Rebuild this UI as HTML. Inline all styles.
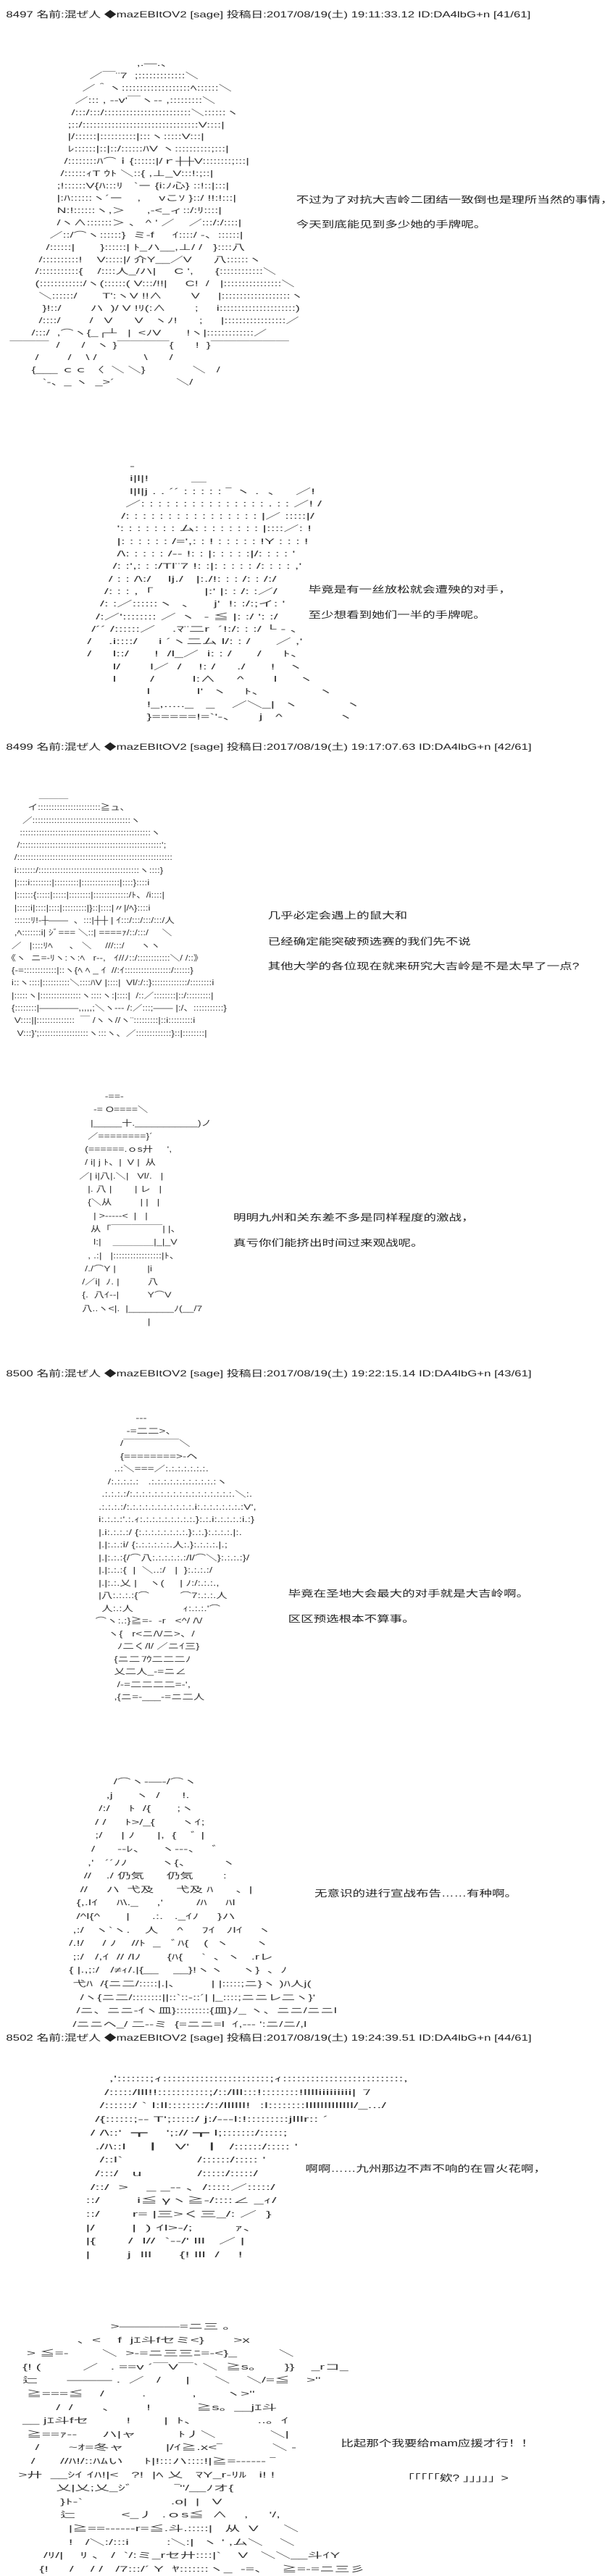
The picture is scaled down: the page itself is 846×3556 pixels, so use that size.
<!DOCTYPE html>
<html><head><meta charset="utf-8">
<style>
html,body{margin:0;padding:0;background:#fff;}
body{width:846px;height:3556px;overflow:hidden;position:relative;}
#s{position:absolute;left:0;top:0;width:604px;height:3556px;transform:scaleX(1.4);transform-origin:0 0;}
.h,.t,.a{position:absolute;white-space:pre;margin:0;color:#111;}
.h{left:6px;font:12px/16px "Liberation Sans","Noto Sans CJK JP",sans-serif;color:#222;}
.t{font:12.5px/16px "Liberation Sans","Noto Sans CJK SC",sans-serif;color:#222;}
.a{font:11px "Liberation Sans","Noto Sans CJK JP",sans-serif;color:#333;transform-origin:0 0;}
</style></head><body><div id="s">
<div class="h" style="top:12px">8497 名前:混ぜ人 ◆mazEBItOV2 [sage] 投稿日:2017/08/19(土) 19:11:33.12 ID:DA4lbG+n [41/61]</div>
<div class="h" style="top:1023px">8499 名前:混ぜ人 ◆mazEBItOV2 [sage] 投稿日:2017/08/19(土) 19:17:07.63 ID:DA4lbG+n [42/61]</div>
<div class="h" style="top:1888px">8500 名前:混ぜ人 ◆mazEBItOV2 [sage] 投稿日:2017/08/19(土) 19:22:15.14 ID:DA4lbG+n [43/61]</div>
<div class="h" style="top:2805px">8502 名前:混ぜ人 ◆mazEBItOV2 [sage] 投稿日:2017/08/19(土) 19:24:39.51 ID:DA4lbG+n [44/61]</div>

<div class="t" style="left:292px;top:268px">不过为了对抗大吉岭二团结一致倒也是理所当然的事情，</div>
<div class="t" style="left:292px;top:302px">今天到底能见到多少她的手牌呢。</div>
<div class="t" style="left:304px;top:806px">毕竟是有一丝放松就会遭殃的对手，</div>
<div class="t" style="left:304px;top:841px">至少想看到她们一半的手牌呢。</div>
<div class="t" style="left:264px;top:1256px">几乎必定会遇上的鼠大和</div>
<div class="t" style="left:264px;top:1292px">已经确定能突破预选赛的我们先不说</div>
<div class="t" style="left:264px;top:1326px">其他大学的各位现在就来研究大吉岭是不是太早了一点?</div>
<div class="t" style="left:230px;top:1673px">明明九州和关东差不多是同样程度的激战，</div>
<div class="t" style="left:230px;top:1708px">真亏你们能挤出时间过来观战呢。</div>
<div class="t" style="left:284px;top:2192px">毕竟在圣地大会最大的对手就是大吉岭啊。</div>
<div class="t" style="left:284px;top:2227px">区区预选根本不算事。</div>
<div class="t" style="left:310px;top:2606px">无意识的进行宣战布告……有种啊。</div>
<div class="t" style="left:301px;top:2986px">啊啊……九州那边不声不响的在冒火花啊，</div>
<div class="t" style="left:336px;top:3365px">比起那个我要给mam应援才行！！</div>
<div class="t" style="left:396px;top:3413px">「「「「「欸? 」」」」」&gt;</div>

<pre class="a" style="left:6px;top:80px;line-height:16.9px;transform:scaleX(1.17)">                                    ,.―.、
                       ／￣¨7  ;:::::::::::::＼
                     ／＾ヽ:::::::::::::::::::ﾍ::::::＼
                   ／::: , --v'￣ヽ-- ,:::::::::＼
                  /:::/:::/::::::::::::::::::::::::＼::::::ヽ
                 ;::/::::::::::::::::::::::::::::::::V::::|
                 |/::::::|::::::::::|:::ヽ:::::V:::|
                 ﾚ::::::|::|::/::::::ﾊV ヽ::::::::::;:::|
                /::::::::ﾊ⌒ｉ{::::::|/ｒ┼┼V::::::::;:::|
               /::::::ｨT ｳﾄ ＼::{ ,⊥_V:::!:;::|
              ;!::::::V{ﾊ:::ﾘ   `ー {i:ﾉ心} ::!::|:::|
              |:ﾊ::::::ヽ´ー    ,     vこｿ }::/ !!:!:::|
              N:!::::::ヽ,＞      ,-<_ィ::/:ﾘ::::|
              /ヽ∧:::::::＞ 、 ^ ' ／    ／:::/:/::::|
            ／::/⌒ヽ::::::}  ミ-f     ｲ::::/ -、::::::|
           /::::::|       }::::::| ﾄ_ハ__,⊥/ /   }::::八
         /::::::::::!    V:::::|/ 介Y__／V      八::::::ヽ
        /:::::::::::{    /::::人_/ハ|     C ',      {::::::::::::＼
        (::::::::::::/ヽ(::::::( V:::/!!|     C!  /   |::::::::::::::::＼
         ＼::::::/       T':ヽV !!∧        V     |:::::::::::::::::::ヽ
          }!::/        ハ  )/ V !ﾘ(:∧        ;     i:::::::::::::::::::::)
         /::::/        /   V      V   ヽﾉ!      ;     |:::::::::::::::::／
       /:::/  ,⌒ヽ{_┌┴   |  <ﾉV       !ヽ|:::::::::::::／
 ￣￣￣  /      /   ヽ }￣￣￣￣{      !  }￣￣￣￣￣￣
        /        /    \ /             \      /
       {___ ｃｃ 〈  ＼ ＼}             ＼   /
          `-、_ ヽ  _&gt;´                 ＼/</pre>

<pre class="a" style="left:86px;top:636px;line-height:17.3px;transform:scaleX(1.37)">          -
          i|l|!          ＿
          l|l|j . . ´´ : : : : : ‾ ヽ .  、   ／!
         ／: : : : : : : : : : : : : : : . : : ／! /
        /: : : : : : : : : : : : : : : : |／ :::::|/
       ': : : : : : : ム: : : : : : : : |::::／: !
       |: : : : : : /=',: : ! : : : : : !Y : : : !
       /\: : : : : /‐‐ !: : |: : : : :|/: : : : '
      /: :',: : :/Tl¨7 !: :|: : : : : /: : : : ,'
     / : : /\:/    lj./   |:./!: : : /: : /:/
    /: : : ,「            |:' |: : /: :／/
   /: :／::::::ヽ  、    j'  !: :/:;イ: '
  /:／':::::::: ／ ヽ  - ≦ |: :/ ': :/
 /´´ /::::::／    .ﾏ¨二r  ´!:/: : :/ └ - 、
/    .i::::/     i ´ヽ二ム l/: : /      ／ ,'
/     l::/      !  /l_／  i: : /      /     ﾄ、
      l/       l／  /    !: /     ./      !   ヽ
      l        /         l:∧     ^       l     ヽ
              l           l'  ヽ    ﾄ、            ヽ
              !_,....._   _    ／＼_|  ヽ           ヽ
              }=====!=`'-、     j   ^             ヽ</pre>

<pre class="a" style="left:6px;top:1090px;line-height:17.3px;transform:scaleX(0.88)">            ＿＿＿
        イ:::::::::::::::::::::::≧ュ、
      ／::::::::::::::::::::::::::::::::::::ヽ
     ::::::::::::::::::::::::::::::::::::::::::::::::ヽ
    /::::::::::::::::::::::::::::::::::::::::::::::::::::';
   /:::::::::::::::::::::::::::::::::::::::::::::::::::::::::
   i:::::::/:::::::::::::::::::::::::::::::::::::ヽ::::}
   |::::i::::::::|:::::::::|::::::::::::::|::::}::::i
   |::::::{:::::|:::::|::::::::|:::::::::::::/ﾄ、/i::::|
   |:::::i|::::|::::|:::::::::|}::|::::|〃|/ﾍ}::::i
   ::::::ﾘ!-┼――  、:::|┼┼ | ｲ:::/:::/:::/:::/人
   ,ﾍ:::::::i| ｼﾞ=== ＼::| ====ｧ/::/:::/     ＼
  ／   |::::ﾘﾍ      、 ＼     ///:::/      ヽヽ
《ヽ  ニ=-ﾘヽ:ヽ:ﾍ   r--,   ｲ//ﾉ::/::::::::::::＼/ /::》
  {-=::::::::::::|::ヽ{ﾍ ﾍ _ ｲ  //:ｲ:::::::::::::::::/::::::}
  i::ヽ::::|::::::::::＼::::ﾊV |::::|  Vl/:/::}:::::::::::::/::::::::i
  |:::::ヽ|:::::::::::::::ヽ::::ヽ:|::::|  /::／::::::::|::/:::::::::|
  {::::::::|――――,,,,,;＼ヽ--- /:／:::;―― |:/、:::::::::::}
   V::::||::::::::::::::  ￣ /ヽヽ//ヽ¨:::::::::|::i:::::::::i
    V:::}';::::::::::::::::::ヽ:::ヽ、／:::::::::::::}::|::::::::|</pre>

<pre class="a" style="left:64px;top:1505px;line-height:18.3px;transform:scaleX(0.92)">              -==-
          -= O====＼
         |_____十.___________)ノ
        ／========}´
       (======.ｏs廾     ',
       / i| j ﾄ、|  V |  从
     ／| i|八|.＼|   Vl/.   |
        |. 八 |        | レ   |
        {＼从          | |   |
          | &gt;-----&lt;  |   |
         从「￣￣￣￣￣| |、
          l:|    ＿＿＿＿|_|_V
        , .:|   |:::::::::::::::::|ﾄ、
       /./⌒Y |           |i
      /／i|  ﾉ. |          八
      {.  八ｲ--|          Y⌒V
      八..ヽ&lt;|.  |________ﾉ(__/7
                             |</pre>

<pre class="a" style="left:91px;top:1950px;line-height:17.5px">              ---
           -=二二&gt;、
         /￣￣￣￣￣＼
         {========&gt;-ヘ
       ..:＼===／:.:.:.:.:.:.:.
     /:.:.:.:.:   .:.:.:.:.:.:.:.:.:.:.:ヽ
   .:.:.:.:/:.:.:.:.:.:.:.:.:.:.:.:.:.:.:.:.:.＼:.
  .:.:.:.:/:.:.:.:.:.:.:.:.:.:.:.i:.:.:.:.:.:.:.:V',
  i:.:.:.:'.:.ｨ:.:.:.:.:.:.:.:.:.}:.:.i:.:.:.:.:i.:}
  |.i:.:.:.:/ {:.:.:.:.:.:.:.:.}:.:.}:.:.:.:.|:.
  |.|:.:.:i/ {:.:.:.:.:.:.人:.}:.:.:.:.|.;
  |.|:.:.:{/⌒八:.:.:.:.:.:/l/⌒＼}:.:.:.:}/
  |.|:.:.:{  |  ＼..:/   |  }:.:.:.:/
  |.|:.:.乂 |    ヽ(     | ﾉ:/:.:.:.,
  |八:.:.:.:{⌒          ⌒7:.:.:.人
   人:.:人                ｨ:.:.:.'⌒
 ⌒ヽ:.:}≧=-  -r   &lt;^/ /\/
     ヽ{   r&lt;ニ/\/ニ&gt;、/
        ﾉ二く/l/ ／ニｲ三}
       {ニ二 ̄/ｳ二二二ﾉ
       乂二人_-=ニ∠
        /-=二二二二=-',
       ,{ニ=-___-=ニ二人</pre>

<pre class="a" style="left:68px;top:2451px;line-height:18.6px;transform:scaleX(1.2)">            /⌒ヽ-―-/⌒ヽ
          ,j      ヽ  /      !.
        /:/     ﾄ  /{       ;ヽ
       / /     ﾄ&gt;/_{       ヽｲ;
       ;/     | ﾉ      |,  {    ﾞ |
      /      --ﾚ、    ヽ---、   ﾞ
     ,'   ´´ﾉﾉ         ヽ{、        ヽ
    //    ./ 仍気      仍気        :
   //     ハ  弋及      弋及 ﾊ      、|
  {,.lｲ     ﾊ\._     ,'         /ﾊ     ﾊl
  /^l{^       |      .:.   ._ｲﾉ     }ハ
 ,:/   ヽ`ヽ.    人     ^     ﾌｲ   ﾉlｲ    ヽ
/.!/     / ﾉ    //ﾄ  _   ﾞﾊ{    (  ヽ       ヽ
 ;:/   /,ｲ  // /lﾉ       {ﾊ{     `  、ヽ   .rレ
{ |.,;:/   /≠ｨ/.|{__    __}!ヽヽ     ヽ}  、ﾉ
 弋ﾊ  /{ニ二/:::::|.|、        | |:::::;ニ}ヽ )ﾊ人j(
   /ヽ{ニ二/::::::::||::`::-::´| |_::::;ニニレ二ヽ}'
  /ニ、ニニ-ｲヽ皿}:::::::::{皿}ﾉ_ ヽ、ニニ/ニニl
 /ニニヘ_/ 二--ミ  {=ニニ=l  ｲ,--- ':ニ/ニ/,l</pre>

<pre class="a" style="left:80px;top:2861px;line-height:18.7px;transform:scaleX(1.5)">      ,':::::::;ｨ:::::::::::::::::::::::;ｨ::::::::::::::::::::::::::,
     /:::::/lll!!:::::::::::;/::/lll:::!::::::::!lllliiiiiiiii|  ̄/
    /::::::/ ` l:ll::::::::/::/llllll!  :l::::::::lllllllllllll/_.../
   /{::::::;-- T';:::::/ j:/--‐l:!:::::::::jlllr:: ´
  / /\::'  ┳    ';:// ┳ l;:::::::/:::::;
   ./ﾊ::l    ┃   V'   ┃  /::::::/::::: '
    /::l`                /::::::/::::: '
   /:::/   u            /:::::/:::::/
  /::/  &gt;    _ _-- 、/:::::／:::::/
 ::/        i≦ γヽ≧-/::::∠ _ｨ/
 ::/       r= |三&gt;く三_/: ／  }
 |/        |  ) ｲl&gt;‐/;         ｧ、
 |{       /  l//  `--/' lll   ／ |
 |        j  lll      {! lll  /    !</pre>

<pre class="a" style="left:14px;top:3203px;line-height:18.6px;transform:scaleX(1.35)">                       &gt;――――=ニ三 。
               、&lt;    f  jｴ斗fセミ&lt;}       &gt;x
   &gt; ≦=-        ＼  &gt;-=ニ三三ﾆ=-&lt;}_          ＼
  {! (          ／   . ==v ´￣V￣` ＼  ≧s。     }}    _rコ_
  辷       ――― .  ／   /      |      ＼    ＼/=≦    &gt;"
   ≧===≦    /         .           ,       ヽ&gt;"
          /  /       、       !           ≧s。__jｴ斗
  __ jｴ斗fセ         !        |  ﾄ、              ..。ｲ
   ≧==ｧ--      ハ|ャ          ﾄ丿＼             ＼|
     /       ~ｵ=冬ャ          |/ｲ≧.x&lt;‾            ＼ -
    /      //ﾊ!/::ﾊﾑい     ﾄ|!:::ハ::::!|≧=------ ‾
 &gt;廾  __ｼｲ ｲﾊ!|&lt;   ?!  |ﾍ 乂   ﾏY_r-ﾘﾙ   i! !
          乂|乂;乂_ｼﾞ          ‾"/__ﾉオ{
           }ﾄ-`                     .o|  |   V
           辷           &lt;_丿  .ｏs≦  ∧    ,     '/,
             |≧==------r=≦.斗.:::::|   从  V      ＼
             !   /＼:/:::i         :＼:|  ヽ ' ,ム＼    ＼
       /ﾘ/|    ﾘ 、 /  `/:ミ_rセ廾::::|`    V   ＼＼__斗ｲY
      {!     /    / /   /7:::/´ Y  ﾔ:::::::ヽ_  -=、   ≧=-=ニ三彡</pre>
</div></body></html>
